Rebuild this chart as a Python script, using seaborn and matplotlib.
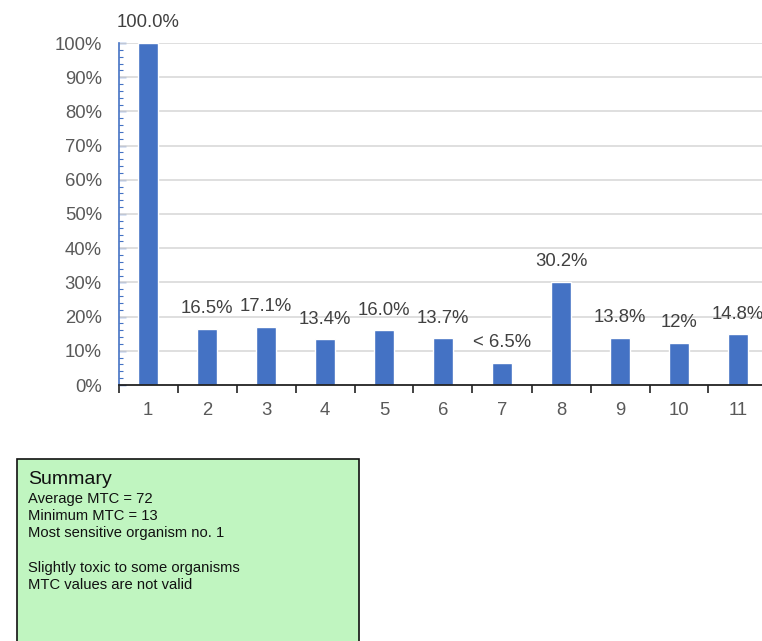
import matplotlib
matplotlib.use("Agg")
import matplotlib.pyplot as plt
import seaborn as sns
import numpy as np
import pandas as pd
from matplotlib.patches import Rectangle
from matplotlib.ticker import MultipleLocator, FixedLocator, FuncFormatter

sns.set_theme(style="white")
plt.rcParams['font.family'] = ['Liberation Sans', 'DejaVu Sans']

categories = ["1", "2", "3", "4", "5", "6", "7", "8", "9", "10", "11"]
values = [100.0, 16.5, 17.1, 13.4, 16.0, 13.7, 6.5, 30.2, 13.8, 12.3, 14.8]
labels = ["100.0%", "16.5%", "17.1%", "13.4%", "16.0%", "13.7%", "< 6.5%", "30.2%", "13.8%", "12%", "14.8%"]
y_ticks = [0, 10, 20, 30, 40, 50, 60, 70, 80, 90, 100]
summary_title = "Summary"
summary_lines = ["Average MTC = 72", "Minimum MTC = 13", "Most sensitive organism no. 1", "",
                 "Slightly toxic to some organisms", "MTC values are not valid"]

BLUE = "#4472C4"
df = pd.DataFrame({"organism": categories, "pct": values})

fig = plt.figure(figsize=(7.62, 6.41), dpi=100)
ax = fig.add_axes([118.5 / 762, 1 - 385 / 641, 649 / 762, 342 / 641])

sns.barplot(data=df, x="organism", y="pct", color=BLUE, width=0.33, ax=ax,
            saturation=1, zorder=3)

ax.set_xlim(-0.5, 10.5)
ax.set_ylim(0, 100)
ax.set_xlabel("")
ax.set_ylabel("")

# grid
for t in y_ticks[1:]:
    ax.axhline(t, color="#d9d9d9", lw=1.2, zorder=1)

# y axis
ax.yaxis.set_major_locator(FixedLocator(y_ticks))
ax.yaxis.set_minor_locator(MultipleLocator(2))
ax.yaxis.set_major_formatter(FuncFormatter(lambda v, p: f"{int(v)}%"))
ax.tick_params(axis="y", which="major", direction="in", length=5, width=1, color=BLUE,
               labelcolor="#595959", labelsize=13.3, pad=12, left=True)
ax.tick_params(axis="y", which="minor", direction="in", length=3, width=0.8, color=BLUE, left=True)

# x axis: ticks at boundaries, labels at centers
ax.xaxis.set_major_locator(FixedLocator(np.arange(-0.5, 11, 1.0)))
ax.xaxis.set_major_formatter(FuncFormatter(lambda v, p: ""))
ax.set_xticks(np.arange(0, 11), labels=categories, minor=True)
ax.tick_params(axis="x", which="major", direction="out", length=6, width=1.2, color="#222222", bottom=True)
ax.tick_params(axis="x", which="minor", length=0, labelcolor="#595959", labelsize=13.3, pad=12)

for s in ["top", "right"]:
    ax.spines[s].set_visible(False)
ax.spines["left"].set_color(BLUE)
ax.spines["left"].set_linewidth(1.2)
ax.spines["bottom"].set_color("#222222")
ax.spines["bottom"].set_linewidth(1.3)
ax.spines["bottom"].set_zorder(4)

# data labels
for i, (v, lab) in enumerate(zip(values, labels)):
    ax.annotate(lab, (i, v), xytext=(0, 14.5), textcoords="offset points",
                ha="center", va="center", fontsize=13.3, color="#404040", annotation_clip=False)

# summary box
box = Rectangle((17 / 762, -0.02), (359 - 17) / 762, 0.02 + 1 - 459 / 641,
                transform=fig.transFigure, facecolor="#c0f5c0", edgecolor="#111111",
                linewidth=1.2, zorder=0)
fig.patches.append(box)
fig.text(28 / 762, 1 - 480 / 641, summary_title, fontsize=14, color="#111111", va="center")
y0 = 499
for k, line in enumerate(summary_lines):
    if line:
        fig.text(28 / 762, 1 - (y0 + k * 17.2) / 641, line, fontsize=10.6, color="#111111", va="center")

fig.savefig("out.png", dpi=100)
